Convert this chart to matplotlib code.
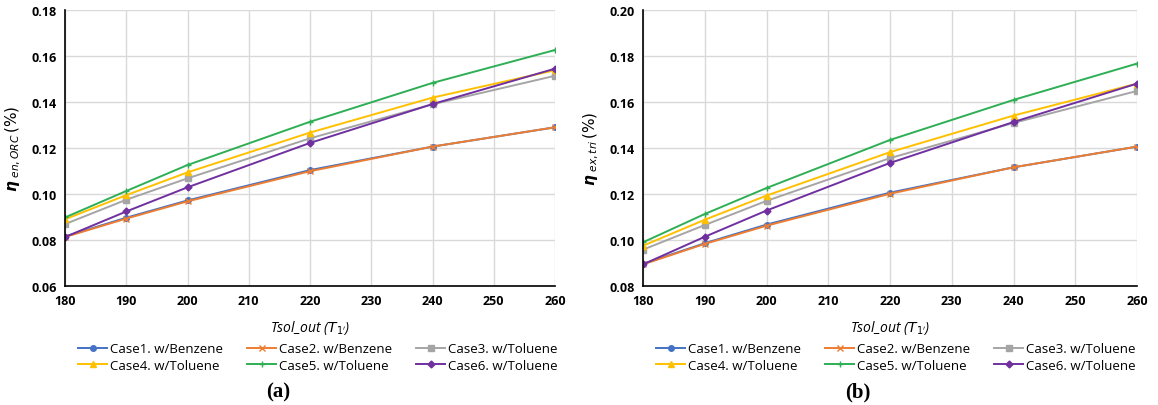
import matplotlib.pyplot as plt

plt.rcParams['font.family'] = ['Open Sans', 'DejaVu Sans']

# x 축: Tsol_out
x = [180, 190, 200, 220, 240, 260]
labels = ['Case1. w/Benzene', 'Case2. w/Benzene', 'Case3. w/Toluene',
          'Case4. w/Toluene', 'Case5. w/Toluene', 'Case6. w/Toluene']

# (a) eta_en,ORC
case1_a = [0.0815, 0.0897, 0.0972, 0.1104, 0.1206, 0.1290]
case2_a = [0.0813, 0.0893, 0.0968, 0.1099, 0.1206, 0.1290]
case3_a = [0.0869, 0.0975, 0.1068, 0.1242, 0.1390, 0.1514]
case4_a = [0.0890, 0.0995, 0.1094, 0.1267, 0.1419, 0.1538]
case5_a = [0.0898, 0.1013, 0.1126, 0.1314, 0.1483, 0.1626]
case6_a = [0.0813, 0.0924, 0.1029, 0.1222, 0.1391, 0.1545]

# (b) eta_ex,tri
case1_b = [0.0896, 0.0986, 0.1067, 0.1206, 0.1316, 0.1406]
case2_b = [0.0894, 0.0983, 0.1062, 0.1201, 0.1316, 0.1406]
case3_b = [0.0958, 0.1065, 0.1170, 0.1356, 0.1509, 0.1648]
case4_b = [0.0975, 0.1088, 0.1193, 0.1382, 0.1541, 0.1680]
case5_b = [0.0990, 0.1113, 0.1226, 0.1435, 0.1609, 0.1767]
case6_b = [0.0894, 0.1014, 0.1128, 0.1335, 0.1513, 0.1680]

colors = ['#4472C4', '#ED7D31', '#A5A5A5', '#FFC000', '#2EAF55', '#7030A0']
markers = ['o', 'x', 's', '^', '+', 'D']
msizes = [4, 4, 4, 5, 5, 3.5]

fig = plt.figure(figsize=(11.58, 4.06), dpi=100)
ax1 = fig.add_axes([65/1158, 1-287/406, 490/1158, 276/406])
ax2 = fig.add_axes([643/1158, 1-287/406, 494/1158, 276/406])

panels = [
    (ax1, [case1_a, case2_a, case3_a, case4_a, case5_a, case6_a], (0.06, 0.18),
     r'$\boldsymbol{\eta}_{\ en,ORC}\,(\%)$', 'a', 73),
    (ax2, [case1_b, case2_b, case3_b, case4_b, case5_b, case6_b], (0.08, 0.20),
     r'$\boldsymbol{\eta}_{\ ex,tri}\,(\%)$', 'b', 651),
]

for ax, series, ylim, ylab, tag, lx in panels:
    handles = []
    for i, s in enumerate(series):
        h, = ax.plot(x, s, color=colors[i], marker=markers[i], ms=msizes[i],
                     lw=1.4, mew=1.0, label=labels[i])
        handles.append(h)
    ax.set_xlim(180, 260)
    ax.set_ylim(*ylim)
    ax.set_xticks(range(180, 261, 10))
    ax.set_yticks([ylim[0] + 0.02*k for k in range(7)])
    ax.yaxis.set_major_formatter(plt.FormatStrFormatter('%.2f'))
    ax.grid(True, color='#D9D9D9', lw=1)
    ax.set_axisbelow(True)
    for sp in ['top', 'right']:
        ax.spines[sp].set_visible(False)
    ax.spines['left'].set_linewidth(1.2)
    ax.spines['bottom'].set_linewidth(1.2)
    ax.tick_params(length=0, labelsize=9, pad=6)
    for t in ax.get_xticklabels() + ax.get_yticklabels():
        t.set_fontweight('bold')
    ax.set_xlabel(r"Tsol_out ($T_{1'}$)", style='italic', fontsize=10, labelpad=8)
    try:
        ax.set_ylabel(ylab, fontsize=11, labelpad=6)
        fig.canvas.draw()
    except Exception:
        ax.set_ylabel(ylab.replace(r'\boldsymbol{\eta}', r'\eta'), fontsize=11, labelpad=6)
    order = [0, 3, 1, 4, 2, 5]
    fig.legend([handles[k] for k in order], [labels[k] for k in order],
               ncol=3, loc='upper left', mode='expand',
               bbox_to_anchor=(lx/1158, 1-378/406, 490/1158, 40/406),
               frameon=False, fontsize=9.5, handlelength=2.2,
               handletextpad=0.2, labelspacing=0.25, borderaxespad=0)
    cx = (ax.get_position().x0 + ax.get_position().x1) / 2 - 32/1158
    fig.text(cx, 1-392/406, '(' + tag + ')', ha='center', va='center',
             family='Liberation Serif', fontweight='bold', fontsize=15)

fig.savefig('out.png', dpi=100)
